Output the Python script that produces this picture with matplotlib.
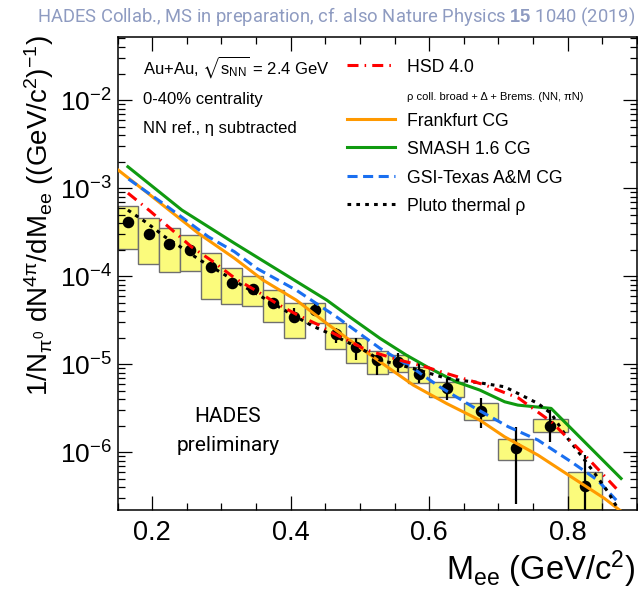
import matplotlib
matplotlib.use('Agg')
import matplotlib.pyplot as plt
import numpy as np
from matplotlib.lines import Line2D
from matplotlib.ticker import MultipleLocator, LogLocator, NullFormatter

plt.rcParams['font.family'] = ['Liberation Sans', 'DejaVu Sans']
plt.rcParams['mathtext.fontset'] = 'custom'
plt.rcParams['mathtext.rm'] = 'Liberation Sans'
plt.rcParams['mathtext.it'] = 'Liberation Sans'
plt.rcParams['mathtext.sf'] = 'Liberation Sans'
plt.rcParams['mathtext.bf'] = 'Liberation Sans:bold'
plt.rcParams['mathtext.fallback'] = 'stixsans'

# HADES data (Au+Au 2.4 GeV, 0-40%)
bin_edges = [0.15, 0.18, 0.21, 0.24, 0.27, 0.30, 0.33, 0.36, 0.39, 0.42, 0.45,
             0.48, 0.51, 0.54, 0.57, 0.60, 0.65, 0.70, 0.75, 0.80, 0.85]
data_y = [4.1e-4, 3.0e-4, 2.3e-4, 2.0e-4, 1.28e-4, 8.4e-5, 7.2e-5, 5.0e-5, 3.45e-5, 4.1e-5,
          2.2e-5, 1.57e-5, 1.11e-5, 1.06e-5, 7.8e-6, 5.4e-6, 2.95e-6, 1.12e-6, 2.0e-6, 4.1e-7]
stat_hi = [4.35e-4, 3.2e-4, 2.45e-4, 2.15e-4, 1.38e-4, 9.1e-5, 7.9e-5, 5.6e-5, 4.3e-5, 4.9e-5,
           2.6e-5, 1.97e-5, 1.26e-5, 1.33e-5, 1.05e-5, 6.9e-6, 4.1e-6, 1.92e-6, 3.0e-6, 9.2e-7]
stat_lo = [3.85e-4, 2.8e-4, 2.15e-4, 1.85e-4, 1.18e-4, 7.7e-5, 6.5e-5, 4.3e-5, 2.95e-5, 3.6e-5,
           1.75e-5, 1.11e-5, 7.5e-6, 8.1e-6, 6.1e-6, 3.9e-6, 1.87e-6, 2.6e-7, 1.3e-6, 1.0e-7]
sys_hi = [6.2e-4, 4.55e-4, 3.5e-4, 2.92e-4, 1.82e-4, 1.25e-4, 1.0e-4, 6.9e-5, 4.9e-5, 5.0e-5,
          2.9e-5, 2.0e-5, 1.4e-5, 1.26e-5, 9.2e-6, 6.2e-6, 3.6e-6, 1.4e-6, 2.4e-6, 5.9e-7]
sys_lo = [2.05e-4, 1.37e-4, 1.1e-4, 1.15e-4, 5.5e-5, 4.8e-5, 4.6e-5, 3.0e-5, 2.0e-5, 2.9e-5,
          1.48e-5, 1.03e-5, 7.7e-6, 8.1e-6, 6.1e-6, 4.2e-6, 2.3e-6, 8.1e-7, 1.7e-6, 2.2e-7]

# model curves
hsd_m = [0.165, 0.197, 0.229, 0.257, 0.289, 0.321, 0.351, 0.381, 0.410, 0.441, 0.461,
         0.510, 0.557, 0.591, 0.628, 0.681, 0.729, 0.777, 0.826, 0.875]
hsd_y = [8.77e-4, 5.48e-4, 3.33e-4, 2.14e-4, 1.44e-4, 9.25e-5, 6.76e-5, 4.81e-5, 3.61e-5, 2.77e-5,
         2.25e-5, 1.44e-5, 1.11e-5, 9.49e-6, 7.7e-6, 5.77e-6, 4.11e-6, 2.19e-6, 9.01e-7, 3.51e-7]
frank_m = [0.151, 0.194, 0.267, 0.319, 0.360, 0.408, 0.452, 0.485, 0.529, 0.577, 0.625,
           0.673, 0.709, 0.757, 0.805, 0.853, 0.875, 0.889]
frank_y = [1.6e-3, 8.71e-4, 3.05e-4, 1.59e-4, 9.01e-5, 5.34e-5, 2.9e-5, 1.875e-5, 1.062e-5, 5.77e-6,
           3.57e-6, 2.31e-6, 1.49e-6, 9.25e-7, 5.24e-7, 2.98e-7, 2.19e-7, 1.82e-7]
smash_m = [0.165, 0.243, 0.319, 0.384, 0.452, 0.485, 0.529, 0.567, 0.601, 0.639, 0.673,
           0.709, 0.728, 0.776, 0.877]
smash_y = [1.746e-3, 5.62e-4, 2.355e-4, 1.14e-4, 5.34e-5, 3.45e-5, 1.96e-5, 1.265e-5, 8.93e-6,
           6.29e-6, 5.07e-6, 3.73e-6, 3.42e-6, 3.14e-6, 5.02e-7]
gsi_m = [0.166, 0.219, 0.281, 0.319, 0.351, 0.408, 0.466, 0.529, 0.577, 0.615, 0.663,
         0.714, 0.757, 0.805, 0.843, 0.870]
gsi_y = [1.265e-3, 6.41e-4, 2.8e-4, 1.888e-4, 1.224e-4, 6.93e-5, 3.45e-5, 1.51e-5, 8.93e-6,
         5.52e-6, 3.27e-6, 1.944e-6, 1.37e-6, 7.76e-7, 4.81e-7, 2.85e-7]
pluto_m = [0.165, 0.192, 0.219, 0.237, 0.269, 0.301, 0.329, 0.358, 0.399, 0.432, 0.461,
           0.510, 0.529, 0.577, 0.625, 0.673, 0.709, 0.757, 0.776, 0.800, 0.819, 0.839,
           0.858, 0.875]
pluto_y = [5.62e-4, 4.04e-4, 2.77e-4, 2.25e-4, 1.52e-4, 1.08e-4, 7.9e-5, 5.82e-5, 3.77e-5, 2.7e-5,
           2.14e-5, 1.38e-5, 1.11e-5, 8.93e-6, 6.88e-6, 6.13e-6, 5.52e-6, 3.57e-6, 2.75e-6, 1.43e-6,
           9.25e-7, 5.73e-7, 3.54e-7, 2.1e-7]

edges = np.array(bin_edges)
centers = 0.5 * (edges[:-1] + edges[1:])
widths = np.diff(edges)
y = np.array(data_y)

fig = plt.figure(figsize=(6.38, 5.92), dpi=100)
ax = fig.add_axes([117.5 / 638, 1 - 510 / 592, (637 - 117.5) / 638, (510 - 36.7) / 592])

# systematic boxes
ax.bar(edges[:-1], np.array(sys_hi) - np.array(sys_lo), bottom=sys_lo, width=widths,
       align='edge', color='#fbfb7c', edgecolor='#6f6f6f', linewidth=1.0, zorder=1)
# data points with stat errors
ax.errorbar(centers, y, yerr=[y - np.array(stat_lo), np.array(stat_hi) - y],
            fmt='o', color='black', markersize=7.3, elinewidth=1.6, capsize=0, zorder=3)

lw = 2.2
ax.plot(frank_m, frank_y, color='#ff9900', lw=lw, zorder=4)
ax.plot(smash_m, smash_y, color='#109a10', lw=lw, zorder=4)
ax.plot(gsi_m, gsi_y, color='#1a6ff0', lw=lw, dashes=(3.3, 1.8), zorder=4)
ax.plot(pluto_m, pluto_y, color='black', lw=lw, dashes=(1.2, 1.7), zorder=5)
ax.plot(hsd_m, hsd_y, color='#ff0000', lw=lw, dashes=(3.6, 2.0, 0.5, 2.0), zorder=6)

ax.set_yscale('log')
ax.set_xlim(0.15, 0.9)
ax.set_ylim(2.2e-7, 5.24e-2)
ax.xaxis.set_major_locator(MultipleLocator(0.2))
ax.xaxis.set_minor_locator(MultipleLocator(0.05))
ax.yaxis.set_major_locator(LogLocator(base=10, numticks=20))
ax.yaxis.set_minor_locator(LogLocator(base=10, subs=np.arange(2, 10), numticks=20))
ax.yaxis.set_minor_formatter(NullFormatter())
ax.tick_params(which='both', direction='in', top=True, right=True, width=0.9)
ax.tick_params(which='major', length=10, labelsize=19)
ax.tick_params(axis='x', which='major', labelsize=19.5)
ax.tick_params(which='minor', length=5)
ax.tick_params(axis='x', which='major', pad=7)
ax.tick_params(axis='y', which='major', pad=4)
for s in ax.spines.values():
    s.set_linewidth(1.1)

# texts
ax.text(0.049, 0.936, r'Au+Au, $\sqrt{\mathrm{s}_{\mathrm{NN}}}$ = 2.4 GeV', transform=ax.transAxes,
        fontsize=12, va='center')
ax.text(0.049, 0.868, '0-40% centrality', transform=ax.transAxes, fontsize=12, va='center')
ax.text(0.049, 0.805, 'NN ref., η subtracted', transform=ax.transAxes, fontsize=12, va='center')

ax.text(0.2127, 0.1965, 'HADES', transform=ax.transAxes, fontsize=15, ha='center', va='center',
        family=['Roboto', 'DejaVu Sans'])
ax.text(0.2127, 0.137, 'preliminary', transform=ax.transAxes, fontsize=15, ha='center', va='center',
        family=['Roboto', 'DejaVu Sans'])

handles = [
    Line2D([], [], color='#ff0000', lw=lw, dashes=(3.6, 2.0, 0.5, 2.0)),
    Line2D([], [], color='none'),
    Line2D([], [], color='#ff9900', lw=lw),
    Line2D([], [], color='#109a10', lw=lw),
    Line2D([], [], color='#1a6ff0', lw=lw, dashes=(3.3, 1.8)),
    Line2D([], [], color='black', lw=lw, dashes=(1.2, 1.7)),
]
labels = ['HSD 4.0', 'ρ coll. broad + Δ + Brems. (NN, πN)', 'Frankfurt CG', 'SMASH 1.6 CG',
          'GSI-Texas A&M CG', 'Pluto thermal ρ']
leg = ax.legend(handles, labels, loc='upper left', bbox_to_anchor=(0.4418, 0.955),
                frameon=False, fontsize=12.7, borderpad=0, borderaxespad=0,
                handlelength=2.72, handletextpad=0.68, labelspacing=0.58, handleheight=1.0)
leg.get_texts()[1].set_fontsize(8)

fig.text(39 / 638, 1 - 35 / 592,
         r'1/N$_{\pi^{0}}$ dN$^{4\pi}$/dM$_{\mathrm{ee}}$ ((GeV/c$^{2}$)$^{-1}$)',
         rotation=90, ha='center', va='top', fontsize=20)
fig.text(635 / 638, 1 - 580 / 592, r'M$_{\mathrm{ee}}$ (GeV/c$^{2}$)', ha='right',
         va='baseline', fontsize=23.5)

fig.text(635 / 638, 1 - 17 / 592, 'HADES Collab., MS in preparation, cf. also Nature Physics $\\bf{15}$ 1040 (2019)',
         ha='right', va='center', fontsize=13.2, color='#8e9bc1', family=['Roboto', 'DejaVu Sans'])

fig.savefig('out.png', dpi=100)
